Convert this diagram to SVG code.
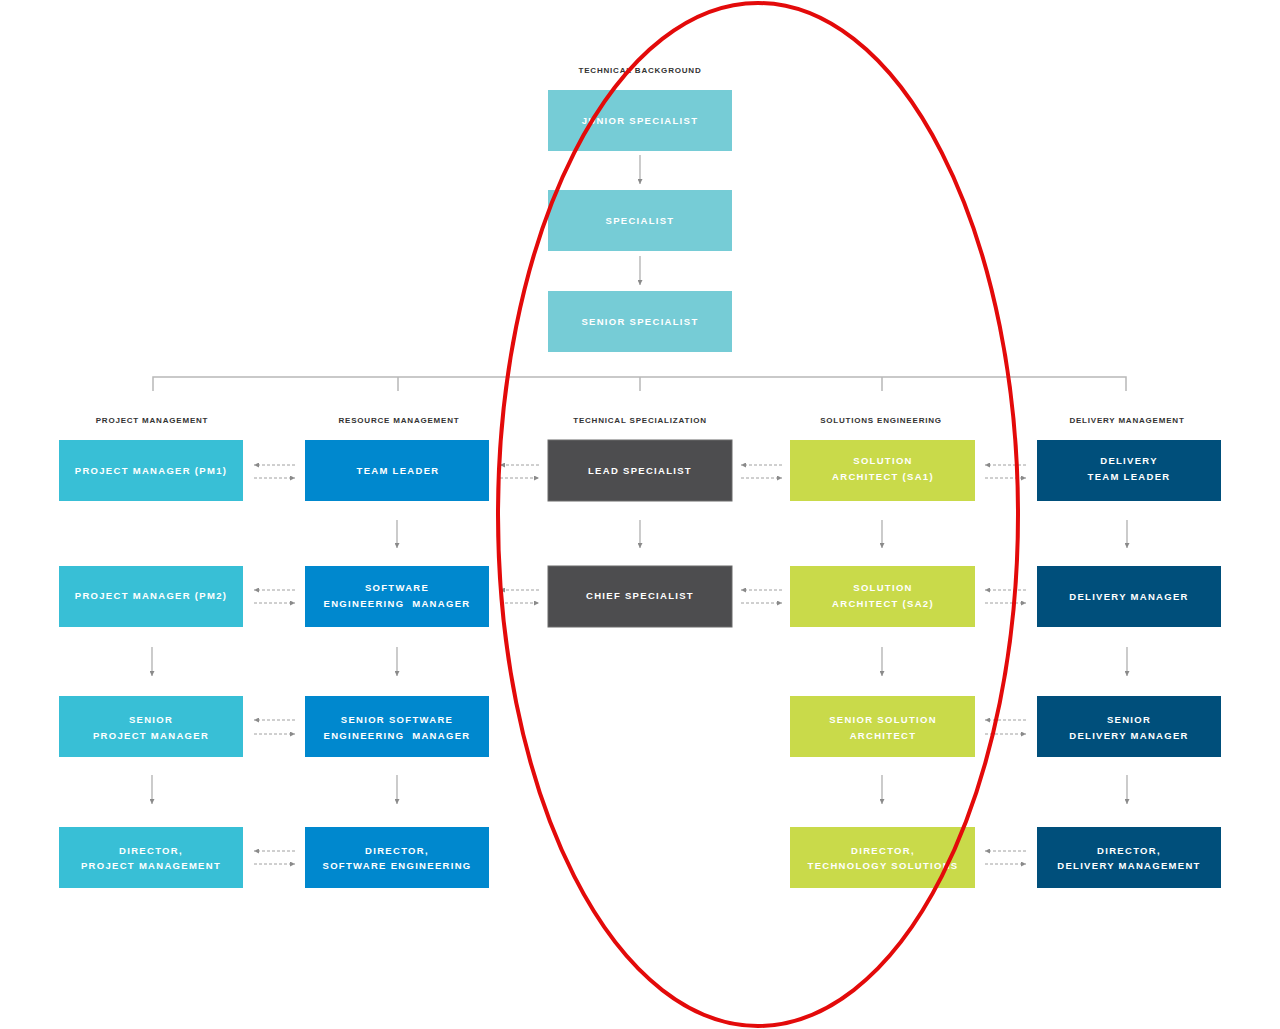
<svg xmlns="http://www.w3.org/2000/svg" width="1280" height="1029" viewBox="0 0 1280 1029">
<defs>
<style>
.hdr{font-family:"Liberation Sans",Arial,sans-serif;font-weight:bold;font-size:8px;letter-spacing:0.8px;fill:#333333;text-anchor:middle}
.lbl{font-family:"Liberation Sans",Arial,sans-serif;font-weight:bold;font-size:9.5px;letter-spacing:1.3px;fill:#ffffff;text-anchor:middle}
.tb{fill:#76CCD6}
.pm{fill:#38BFD6}
.rm{fill:#0088CE}
.ts{fill:#4D4D4F;stroke:#6a6a6a;stroke-width:1}
.se{fill:#C9DA4A}
.dm{fill:#004F7B}
.v{stroke:#b0b0b0;stroke-width:1.3;fill:none;marker-end:url(#ah)}
.d{stroke:#a0a0a0;stroke-width:1;stroke-dasharray:3 2;fill:none;marker-end:url(#ah)}
.tree{stroke:#b8b8b8;stroke-width:1.5;fill:none}
</style>
<marker id="ah" viewBox="0 0 10 10" refX="10" refY="5" markerWidth="5" markerHeight="5" markerUnits="userSpaceOnUse" orient="auto">
<path d="M0,0 L10,5 L0,10 z" fill="#8a8a8a"/>
</marker>
</defs>
<rect width="1280" height="1029" fill="#ffffff"/>

<g id="connectors">
<path class="tree" d="M153,391 V377 H1126 V391 M398,377 V391 M640,377 V391 M882,377 V391"/>
<line class="v" x1="640" y1="155" x2="640" y2="184"/>
<line class="v" x1="640" y1="256" x2="640" y2="285"/>
<line class="v" x1="640" y1="520" x2="640" y2="548"/>
<line class="v" x1="397" y1="520" x2="397" y2="548"/>
<line class="v" x1="882" y1="520" x2="882" y2="548"/>
<line class="v" x1="1127" y1="520" x2="1127" y2="548"/>
<line class="v" x1="152" y1="647" x2="152" y2="676"/>
<line class="v" x1="397" y1="647" x2="397" y2="676"/>
<line class="v" x1="882" y1="647" x2="882" y2="676"/>
<line class="v" x1="1127" y1="647" x2="1127" y2="676"/>
<line class="v" x1="152" y1="775" x2="152" y2="804"/>
<line class="v" x1="397" y1="775" x2="397" y2="804"/>
<line class="v" x1="882" y1="775" x2="882" y2="804"/>
<line class="v" x1="1127" y1="775" x2="1127" y2="804"/>
<!-- row 1 -->
<line class="d" x1="295" y1="465" x2="254" y2="465"/><line class="d" x1="254" y1="478" x2="295" y2="478"/>
<line class="d" x1="539" y1="465" x2="500" y2="465"/><line class="d" x1="500" y1="478" x2="539" y2="478"/>
<line class="d" x1="782" y1="465" x2="741" y2="465"/><line class="d" x1="741" y1="478" x2="782" y2="478"/>
<line class="d" x1="1026" y1="465" x2="985" y2="465"/><line class="d" x1="985" y1="478" x2="1026" y2="478"/>
<!-- row 2 -->
<line class="d" x1="295" y1="590" x2="254" y2="590"/><line class="d" x1="254" y1="603" x2="295" y2="603"/>
<line class="d" x1="539" y1="590" x2="500" y2="590"/><line class="d" x1="500" y1="603" x2="539" y2="603"/>
<line class="d" x1="782" y1="590" x2="741" y2="590"/><line class="d" x1="741" y1="603" x2="782" y2="603"/>
<line class="d" x1="1026" y1="590" x2="985" y2="590"/><line class="d" x1="985" y1="603" x2="1026" y2="603"/>
<!-- row 3 -->
<line class="d" x1="295" y1="720" x2="254" y2="720"/><line class="d" x1="254" y1="734" x2="295" y2="734"/>
<line class="d" x1="1026" y1="720" x2="985" y2="720"/><line class="d" x1="985" y1="734" x2="1026" y2="734"/>
<!-- row 4 -->
<line class="d" x1="295" y1="851" x2="254" y2="851"/><line class="d" x1="254" y1="864" x2="295" y2="864"/>
<line class="d" x1="1026" y1="851" x2="985" y2="851"/><line class="d" x1="985" y1="864" x2="1026" y2="864"/>
</g>

<g id="headers">
<text class="hdr" x="640" y="73">TECHNICAL BACKGROUND</text>
<text class="hdr" x="152" y="423">PROJECT MANAGEMENT</text>
<text class="hdr" x="399" y="423">RESOURCE MANAGEMENT</text>
<text class="hdr" x="640" y="423">TECHNICAL SPECIALIZATION</text>
<text class="hdr" x="881" y="423">SOLUTIONS ENGINEERING</text>
<text class="hdr" x="1127" y="423">DELIVERY MANAGEMENT</text>
</g>

<g id="junior-specialist"><rect class="tb" x="548" y="90" width="184" height="61"/><text class="lbl" x="640" y="124">JUNIOR SPECIALIST</text></g>
<g id="specialist"><rect class="tb" x="548" y="190" width="184" height="61"/><text class="lbl" x="640" y="224">SPECIALIST</text></g>
<g id="senior-specialist"><rect class="tb" x="548" y="291" width="184" height="61"/><text class="lbl" x="640" y="325">SENIOR SPECIALIST</text></g>

<g id="pm1"><rect class="pm" x="59" y="440" width="184" height="61"/><text class="lbl" x="151" y="474">PROJECT MANAGER (PM1)</text></g>
<g id="pm2"><rect class="pm" x="59" y="566" width="184" height="61"/><text class="lbl" x="151" y="599">PROJECT MANAGER (PM2)</text></g>
<g id="senior-pm"><rect class="pm" x="59" y="696" width="184" height="61"/><text class="lbl" x="151" y="723">SENIOR</text><text class="lbl" x="151" y="739">PROJECT MANAGER</text></g>
<g id="director-pm"><rect class="pm" x="59" y="827" width="184" height="61"/><text class="lbl" x="151" y="854">DIRECTOR,</text><text class="lbl" x="151" y="869">PROJECT MANAGEMENT</text></g>

<g id="team-leader"><rect class="rm" x="305" y="440" width="184" height="61"/><text class="lbl" x="398" y="474">TEAM LEADER</text></g>
<g id="sem"><rect class="rm" x="305" y="566" width="184" height="61"/><text class="lbl" x="397" y="591">SOFTWARE</text><text class="lbl" x="397" y="607" xml:space="preserve">ENGINEERING  MANAGER</text></g>
<g id="senior-sem"><rect class="rm" x="305" y="696" width="184" height="61"/><text class="lbl" x="397" y="723">SENIOR SOFTWARE</text><text class="lbl" x="397" y="739" xml:space="preserve">ENGINEERING  MANAGER</text></g>
<g id="director-se"><rect class="rm" x="305" y="827" width="184" height="61"/><text class="lbl" x="397" y="854">DIRECTOR,</text><text class="lbl" x="397" y="869">SOFTWARE ENGINEERING</text></g>

<g id="lead-specialist"><rect class="ts" x="548" y="440" width="184" height="61"/><text class="lbl" x="640" y="474">LEAD SPECIALIST</text></g>
<g id="chief-specialist"><rect class="ts" x="548" y="566" width="184" height="61"/><text class="lbl" x="640" y="599">CHIEF SPECIALIST</text></g>

<g id="sa1"><rect class="se" x="790" y="440" width="185" height="61"/><text class="lbl" x="883" y="464">SOLUTION</text><text class="lbl" x="883" y="480">ARCHITECT (SA1)</text></g>
<g id="sa2"><rect class="se" x="790" y="566" width="185" height="61"/><text class="lbl" x="883" y="591">SOLUTION</text><text class="lbl" x="883" y="607">ARCHITECT (SA2)</text></g>
<g id="senior-sa"><rect class="se" x="790" y="696" width="185" height="61"/><text class="lbl" x="883" y="723">SENIOR SOLUTION</text><text class="lbl" x="883" y="739">ARCHITECT</text></g>
<g id="director-ts"><rect class="se" x="790" y="827" width="185" height="61"/><text class="lbl" x="883" y="854">DIRECTOR,</text><text class="lbl" x="883" y="869">TECHNOLOGY SOLUTIONS</text></g>

<g id="delivery-team-leader"><rect class="dm" x="1037" y="440" width="184" height="61"/><text class="lbl" x="1129" y="464">DELIVERY</text><text class="lbl" x="1129" y="480">TEAM LEADER</text></g>
<g id="delivery-manager"><rect class="dm" x="1037" y="566" width="184" height="61"/><text class="lbl" x="1129" y="600">DELIVERY MANAGER</text></g>
<g id="senior-dm"><rect class="dm" x="1037" y="696" width="184" height="61"/><text class="lbl" x="1129" y="723">SENIOR</text><text class="lbl" x="1129" y="739">DELIVERY MANAGER</text></g>
<g id="director-dm"><rect class="dm" x="1037" y="827" width="184" height="61"/><text class="lbl" x="1129" y="854">DIRECTOR,</text><text class="lbl" x="1129" y="869">DELIVERY MANAGEMENT</text></g>

<ellipse id="highlight" cx="758" cy="514.5" rx="260" ry="511.5" fill="none" stroke="#E30A0A" stroke-width="4"/>
</svg>
